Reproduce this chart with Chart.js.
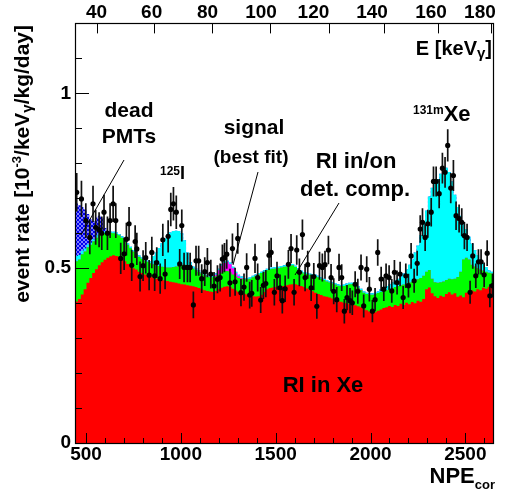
<!DOCTYPE html>
<html>
<head>
<meta charset="utf-8">
<script src="https://cdn.jsdelivr.net/npm/chart.js@4.4.0/dist/chart.umd.min.js"></script>
<style>
    body { margin: 0; background: #fff; }
    #myChartSpectrum { display: block; }
</style>
</head>
<body>
<canvas id="myChartSpectrum" width="507" height="494"></canvas>
<script>
// histogram bin centres (NPE_cor), 15 NPE wide
const binNpe = [
    435, 450, 465, 480, 495, 510, 525, 540, 555, 570,
    585, 600, 615, 630, 645, 660, 675, 690, 705, 720,
    735, 750, 765, 780, 795, 810, 825, 840, 855, 870,
    885, 900, 915, 930, 945, 960, 975, 990, 1005, 1020,
    1035, 1050, 1065, 1080, 1095, 1110, 1125, 1140, 1155, 1170,
    1185, 1200, 1215, 1230, 1245, 1260, 1275, 1290, 1305, 1320,
    1335, 1350, 1365, 1380, 1395, 1410, 1425, 1440, 1455, 1470,
    1485, 1500, 1515, 1530, 1545, 1560, 1575, 1590, 1605, 1620,
    1635, 1650, 1665, 1680, 1695, 1710, 1725, 1740, 1755, 1770,
    1785, 1800, 1815, 1830, 1845, 1860, 1875, 1890, 1905, 1920,
    1935, 1950, 1965, 1980, 1995, 2010, 2025, 2040, 2055, 2070,
    2085, 2100, 2115, 2130, 2145, 2160, 2175, 2190, 2205, 2220,
    2235, 2250, 2265, 2280, 2295, 2310, 2325, 2340, 2355, 2370,
    2385, 2400, 2415, 2430, 2445, 2460, 2475, 2490, 2505, 2520,
    2535, 2550, 2565, 2580, 2595, 2610, 2625, 2640, 2655
];

const riInXe = [
    0.400, 0.405, 0.412, 0.425, 0.440, 0.458, 0.472, 0.486, 0.497, 0.508,
    0.517, 0.524, 0.530, 0.534, 0.537, 0.535, 0.533, 0.527, 0.520, 0.512,
    0.505, 0.500, 0.496, 0.490, 0.486, 0.482, 0.479, 0.476, 0.473, 0.470,
    0.468, 0.466, 0.465, 0.463, 0.461, 0.460, 0.458, 0.456, 0.454, 0.453,
    0.451, 0.450, 0.448, 0.446, 0.443, 0.440, 0.437, 0.435, 0.433, 0.432,
    0.435, 0.440, 0.444, 0.447, 0.448, 0.446, 0.441, 0.436, 0.432, 0.430,
    0.427, 0.425, 0.422, 0.420, 0.419, 0.420, 0.424, 0.432, 0.440, 0.443,
    0.445, 0.446, 0.448, 0.448, 0.449, 0.451, 0.453, 0.454, 0.454, 0.452,
    0.449, 0.446, 0.442, 0.438, 0.434, 0.430, 0.426, 0.423, 0.420, 0.418,
    0.416, 0.413, 0.410, 0.407, 0.404, 0.401, 0.400, 0.398, 0.397, 0.394,
    0.391, 0.388, 0.384, 0.380, 0.376, 0.373, 0.374, 0.378, 0.382, 0.386,
    0.388, 0.392, 0.389, 0.395, 0.392, 0.398, 0.395, 0.401, 0.397, 0.403,
    0.400, 0.407, 0.404, 0.412, 0.440, 0.445, 0.428, 0.420, 0.415, 0.421,
    0.418, 0.426, 0.431, 0.425, 0.428, 0.418, 0.422, 0.417, 0.430, 0.432,
    0.436, 0.433, 0.440, 0.437, 0.444, 0.441, 0.447, 0.450, 0.452
];

const riDetComp = [
    0.590, 0.115, 0.113, 0.115, 0.108, 0.102, 0.095, 0.091, 0.090, 0.086,
    0.081, 0.076, 0.071, 0.067, 0.063, 0.063, 0.061, 0.060, 0.058, 0.055,
    0.052, 0.048, 0.044, 0.043, 0.041, 0.040, 0.039, 0.038, 0.038, 0.038,
    0.038, 0.038, 0.038, 0.039, 0.041, 0.043, 0.047, 0.052, 0.056, 0.057,
    0.056, 0.053, 0.051, 0.049, 0.047, 0.045, 0.043, 0.041, 0.041, 0.042,
    0.042, 0.042, 0.043, 0.044, 0.044, 0.042, 0.041, 0.040, 0.040, 0.040,
    0.041, 0.043, 0.048, 0.054, 0.059, 0.062, 0.062, 0.058, 0.054, 0.054,
    0.053, 0.053, 0.052, 0.054, 0.055, 0.054, 0.054, 0.054, 0.049, 0.044,
    0.040, 0.039, 0.041, 0.043, 0.045, 0.047, 0.048, 0.047, 0.046, 0.044,
    0.043, 0.043, 0.043, 0.043, 0.044, 0.048, 0.052, 0.056, 0.057, 0.056,
    0.053, 0.049, 0.046, 0.046, 0.048, 0.051, 0.052, 0.051, 0.050, 0.049,
    0.049, 0.048, 0.054, 0.051, 0.057, 0.053, 0.058, 0.055, 0.062, 0.058,
    0.063, 0.061, 0.068, 0.066, 0.050, 0.050, 0.042, 0.040, 0.043, 0.039,
    0.044, 0.040, 0.039, 0.043, 0.042, 0.057, 0.068, 0.108, 0.100, 0.093,
    0.074, 0.072, 0.060, 0.059, 0.049, 0.049, 0.040, 0.035, 0.033
];

const signalFit = [
    0, 0, 0, 0, 0, 0, 0, 0, 0, 0,
    0, 0, 0, 0, 0, 0, 0, 0, 0, 0,
    0, 0, 0, 0, 0, 0, 0, 0, 0, 0,
    0, 0, 0, 0, 0, 0, 0, 0, 0, 0,
    0, 0, 0, 0, 0, 0, 0, 0, 0, 0,
    0.004, 0.012, 0.020, 0.024, 0.026, 0.024, 0.018, 0.010, 0.005, 0.002,
    0, 0, 0, 0, 0, 0, 0, 0, 0, 0,
    0, 0, 0, 0, 0, 0, 0, 0, 0, 0,
    0, 0, 0, 0, 0, 0, 0, 0, 0, 0,
    0, 0, 0, 0, 0, 0, 0, 0, 0, 0,
    0, 0, 0, 0, 0, 0, 0, 0, 0, 0,
    0, 0, 0, 0, 0, 0, 0, 0, 0, 0,
    0, 0, 0, 0, 0, 0, 0, 0, 0, 0,
    0, 0, 0, 0, 0, 0, 0, 0, 0, 0,
    0, 0, 0, 0, 0, 0, 0, 0, 0
];

// 125I and 131mXe lines
const iodXe = [
    0, 0.015, 0.013, 0.010, 0.008, 0.008, 0.006, 0.006, 0.007, 0.006,
    0.005, 0.005, 0.004, 0.004, 0.004, 0.004, 0.004, 0.004, 0.004, 0.004,
    0.004, 0.004, 0.004, 0.004, 0.004, 0.004, 0.004, 0.006, 0.024, 0.037,
    0.052, 0.068, 0.082, 0.094, 0.100, 0.103, 0.102, 0.098, 0.090, 0.070,
    0.038, 0.014, 0.006, 0.004, 0.004, 0.004, 0.004, 0.004, 0.004, 0.004,
    0.004, 0.004, 0.004, 0.004, 0.004, 0.004, 0.004, 0.004, 0.004, 0.004,
    0.004, 0.004, 0.004, 0.004, 0.004, 0.004, 0.004, 0.004, 0.004, 0.004,
    0.004, 0.004, 0.004, 0.004, 0.004, 0.004, 0.004, 0.004, 0.004, 0.004,
    0.004, 0.004, 0.004, 0.004, 0.004, 0.004, 0.004, 0.004, 0.004, 0.004,
    0.004, 0.004, 0.004, 0.004, 0.004, 0.004, 0.004, 0.004, 0.004, 0.004,
    0.004, 0.004, 0.004, 0.004, 0.004, 0.004, 0.004, 0.004, 0.008, 0.010,
    0.012, 0.014, 0.017, 0.019, 0.021, 0.025, 0.032, 0.040, 0.051, 0.064,
    0.082, 0.097, 0.123, 0.152, 0.175, 0.210, 0.260, 0.282, 0.297, 0.310,
    0.323, 0.321, 0.305, 0.280, 0.240, 0.200, 0.160, 0.100, 0.082, 0.065,
    0.060, 0.047, 0.038, 0.029, 0.021, 0.013, 0.007, 0.005, 0.004
];

const deadPmts = [
    0, 0.150, 0.142, 0.125, 0.112, 0.087, 0.067, 0.052, 0.051, 0.050,
    0.042, 0.010, 0, 0, 0, 0, 0, 0, 0, 0,
    0, 0, 0, 0, 0, 0, 0, 0, 0, 0,
    0, 0, 0, 0, 0, 0, 0, 0, 0, 0,
    0, 0, 0, 0, 0, 0, 0, 0, 0, 0,
    0, 0, 0, 0, 0, 0, 0, 0, 0, 0,
    0, 0, 0, 0, 0, 0, 0, 0, 0, 0,
    0, 0, 0, 0, 0, 0, 0, 0, 0, 0,
    0, 0, 0, 0, 0, 0, 0, 0, 0, 0,
    0, 0, 0, 0, 0, 0, 0, 0, 0, 0,
    0, 0, 0, 0, 0, 0, 0, 0, 0, 0,
    0, 0, 0, 0, 0, 0, 0, 0, 0, 0,
    0, 0, 0, 0, 0, 0, 0, 0, 0, 0,
    0, 0, 0, 0, 0, 0, 0, 0, 0, 0,
    0, 0, 0, 0, 0, 0, 0, 0, 0
];

// measured points
const dataNpe = [
    451, 476, 499, 520, 537, 551, 569, 583, 595, 613,
    627, 643, 657, 683, 701, 713, 727, 741, 759, 768,
    785, 801, 815, 833, 847, 862, 873, 891, 905, 917,
    933, 947, 961, 976, 994, 1005, 1017, 1035, 1049, 1066,
    1080, 1094, 1110, 1126, 1140, 1158, 1175, 1193,
    1207, 1219, 1230, 1242, 1259, 1272, 1286, 1300, 1317, 1333,
    1347, 1363, 1374, 1391, 1405, 1421, 1435, 1448, 1465, 1476,
    1493, 1507, 1523, 1535, 1550, 1567, 1581, 1597, 1611, 1625,
    1641, 1655, 1669, 1687, 1701, 1717, 1731, 1746, 1760, 1778,
    1792, 1806, 1822, 1834, 1848, 1862, 1876, 1892, 1904, 1919, 1933,
    1950, 1964, 1980, 1994, 2010, 2024, 2038, 2056, 2070, 2082,
    2098, 2112, 2126, 2140, 2156, 2172, 2186, 2200, 2214, 2230,
    2246, 2262, 2274, 2288, 2302, 2320, 2332, 2346, 2362, 2379,
    2393, 2407, 2423, 2437, 2451, 2467, 2481, 2495, 2509, 2525,
    2539, 2555, 2569, 2583, 2599, 2615, 2629, 2643
];

const dataRate = [
    0.717, 0.698, 0.636, 0.588, 0.684, 0.617, 0.610, 0.600, 0.660, 0.600,
    0.636, 0.684, 0.636, 0.528, 0.541, 0.583, 0.627, 0.508, 0.576, 0.555,
    0.476, 0.507, 0.530, 0.480, 0.545, 0.478, 0.516, 0.470, 0.581, 0.483,
    0.591, 0.668, 0.684, 0.660, 0.512, 0.622, 0.502, 0.502, 0.502, 0.395,
    0.521, 0.521, 0.470, 0.490, 0.516, 0.483, 0.449, 0.468,
    0.473, 0.526, 0.530, 0.540, 0.458, 0.556, 0.461, 0.585, 0.430, 0.446,
    0.502, 0.423, 0.428, 0.528, 0.473, 0.409, 0.451, 0.456, 0.537, 0.545,
    0.431, 0.478, 0.444, 0.407, 0.441, 0.511, 0.556, 0.431, 0.552, 0.488,
    0.596, 0.473, 0.510, 0.444, 0.476, 0.391, 0.507, 0.502, 0.510, 0.552,
    0.473, 0.434, 0.410, 0.502, 0.473, 0.377, 0.416, 0.407, 0.401, 0.454, 0.434,
    0.502, 0.392, 0.497, 0.440, 0.377, 0.410, 0.545, 0.469, 0.440, 0.478,
    0.473, 0.435, 0.488, 0.459, 0.483, 0.416, 0.478, 0.450, 0.535, 0.464,
    0.514, 0.612, 0.631, 0.588, 0.627, 0.660, 0.748, 0.748, 0.713, 0.786,
    0.774, 0.851, 0.729, 0.765, 0.650, 0.642, 0.631, 0.593, 0.588, 0.431,
    0.535, 0.478, 0.518, 0.518, 0.481, 0.543, 0.421, 0.450
];

const dataErr = [
    0.055, 0.052, 0.050, 0.048, 0.052, 0.050, 0.050, 0.048, 0.050, 0.048,
    0.050, 0.052, 0.050, 0.045, 0.046, 0.047, 0.048, 0.045, 0.047, 0.046,
    0.043, 0.044, 0.045, 0.043, 0.045, 0.043, 0.044, 0.043, 0.046, 0.043,
    0.046, 0.048, 0.048, 0.048, 0.043, 0.046, 0.042, 0.042, 0.042, 0.038,
    0.043, 0.043, 0.041, 0.041, 0.042, 0.041, 0.040, 0.040,
    0.040, 0.042, 0.042, 0.042, 0.040, 0.043, 0.040, 0.044, 0.039, 0.039,
    0.041, 0.038, 0.038, 0.042, 0.040, 0.037, 0.039, 0.039, 0.042, 0.042,
    0.038, 0.040, 0.038, 0.037, 0.038, 0.041, 0.042, 0.038, 0.042, 0.040,
    0.043, 0.039, 0.040, 0.038, 0.039, 0.036, 0.040, 0.040, 0.040, 0.041,
    0.039, 0.037, 0.036, 0.039, 0.038, 0.035, 0.036, 0.036, 0.035, 0.037, 0.036,
    0.037, 0.033, 0.037, 0.035, 0.032, 0.033, 0.038, 0.035, 0.034, 0.035,
    0.035, 0.034, 0.035, 0.034, 0.035, 0.033, 0.035, 0.034, 0.037, 0.034,
    0.036, 0.039, 0.040, 0.039, 0.040, 0.041, 0.043, 0.043, 0.042, 0.044,
    0.044, 0.046, 0.043, 0.044, 0.041, 0.040, 0.040, 0.039, 0.039, 0.033,
    0.037, 0.035, 0.036, 0.036, 0.035, 0.037, 0.033, 0.034
];

// axes
const xTicks = [500, 1000, 1500, 2000, 2500];
const yTicks = [0, 0.5, 1];
const energyLabels = [40, 60, 80, 100, 120, 140, 160, 180];
const energyLabelNpe = [556, 846, 1141, 1423, 1699, 2008, 2319, 2577];
const energyTickNpe = [556, 860, 1163, 1470, 1783, 2071, 2354, 2634];

const FONT = '"Liberation Sans", Arial, Helvetica, sans-serif';
const layers = [riInXe, riDetComp, signalFit, iodXe, deadPmts];

function stackTops(upTo) {
    return binNpe.map(function (x, i) {
        let sum = 0;
        for (let j = 0; j <= upTo; j++) {
            sum += layers[j][i];
        }
        return { x: x, y: sum };
    });
}

function hatchPattern() {
    const c = document.createElement('canvas');
    c.width = 4;
    c.height = 4;
    const g = c.getContext('2d');
    g.fillStyle = '#0000f0';
    g.fillRect(0, 0, 4, 4);
    g.fillStyle = '#7c7cff';
    [[0, 0], [1, 1], [2, 2], [3, 3], [3, 0], [2, 1], [1, 2], [0, 3]].forEach(function (p) {
        g.fillRect(p[0], p[1], 1, 1);
    });
    return g.createPattern(c, 'repeat');
}

function layerDataset(label, upTo, color) {
    return {
        type: 'line',
        label: label,
        data: stackTops(upTo),
        backgroundColor: color,
        borderColor: color,
        borderWidth: 0,
        pointRadius: 0,
        stepped: 'middle',
        fill: 'origin'
    };
}

function richText(c, parts, x, y, align) {
    let w = 0;
    parts.forEach(function (p) {
        c.font = 'bold ' + p[1] + 'px ' + FONT;
        w += c.measureText(p[0]).width;
    });
    let cx = align === 'right' ? x - w : (align === 'center' ? x - w / 2 : x);
    parts.forEach(function (p) {
        c.font = 'bold ' + p[1] + 'px ' + FONT;
        c.fillText(p[0], cx, y + (p[2] || 0));
        cx += c.measureText(p[0]).width;
    });
}

const errorBars = {
    id: 'errorBars',
    beforeDatasetDraw(chart, args) {
        if (args.index !== 0) return;
        const c = chart.ctx;
        const a = chart.chartArea;
        const sx = chart.scales.x;
        const sy = chart.scales.y;
        c.save();
        c.beginPath();
        c.rect(a.left, a.top, a.right - a.left, a.bottom - a.top);
        c.clip();
        c.strokeStyle = '#111';
        c.lineWidth = 1.7;
        c.beginPath();
        dataNpe.forEach(function (n, i) {
            const px = sx.getPixelForValue(n);
            c.moveTo(px, sy.getPixelForValue(dataRate[i] - dataErr[i]));
            c.lineTo(px, sy.getPixelForValue(dataRate[i] + dataErr[i]));
        });
        c.stroke();
        c.restore();
    }
};

const frameAndText = {
    id: 'frameAndText',
    afterDraw(chart) {
        const c = chart.ctx;
        const a = chart.chartArea;
        const sx = chart.scales.x;
        const sy = chart.scales.y;
        c.save();
        c.strokeStyle = '#000';
        c.lineWidth = 1;
        c.beginPath();
        for (let v = 500; v <= 2600; v += 100) {
            const px = Math.round(sx.getPixelForValue(v)) + 0.5;
            c.moveTo(px, a.bottom);
            c.lineTo(px, a.bottom - (xTicks.includes(v) ? 10 : 5));
        }
        for (let k = 0; k <= 12; k++) {
            const py = Math.round(sy.getPixelForValue(k / 10)) + 0.5;
            c.moveTo(a.left, py);
            c.lineTo(a.left + (k % 5 === 0 ? 14 : 7), py);
        }
        energyTickNpe.forEach(function (n) {
            const px = Math.round(sx.getPixelForValue(n)) + 0.5;
            c.moveTo(px, a.top);
            c.lineTo(px, a.top + 10);
        });
        c.stroke();
        c.lineWidth = 1.2;
        c.strokeRect(Math.round(a.left) + 0.5, Math.round(a.top) + 0.5,
            Math.round(a.right - a.left) - 1, Math.round(a.bottom - a.top));

        // leader lines
        c.lineWidth = 1;
        c.beginPath();
        c.moveTo(124, 160); c.lineTo(81, 235);
        c.moveTo(258, 172); c.lineTo(233, 265);
        c.moveTo(339, 203); c.lineTo(295, 275);
        c.stroke();

        c.fillStyle = '#000';
        c.textBaseline = 'alphabetic';
        c.textAlign = 'left';
        richText(c, [['dead', 21]], 129, 117, 'center');
        richText(c, [['PMTs', 21]], 129, 143, 'center');
        richText(c, [['125', 12, -4], ['I', 18]], 160, 179, 'left');
        richText(c, [['signal', 21]], 254, 134, 'center');
        richText(c, [['(best fit)', 19]], 251, 163, 'center');
        richText(c, [['RI in/on', 22]], 356, 168, 'center');
        richText(c, [['det. comp.', 22]], 355, 196, 'center');
        richText(c, [['131m', 12, -7], ['Xe', 22]], 413, 121, 'left');
        richText(c, [['RI in Xe', 22]], 323, 392, 'center');
        richText(c, [['E [keV', 20], ['\u03b3', 15, 3], [']', 20]], 492, 55, 'right');
        richText(c, [['NPE', 22], ['cor', 13, 6]], 495, 483, 'right');

        c.translate(29, 25);
        c.rotate(-Math.PI / 2);
        richText(c, [['event rate [10', 21], ['-3', 13, -8], ['/keV', 21], ['\u03b3', 15, 3], ['/kg/day]', 21]], 0, 0, 'right');
        c.restore();
    }
};

const tickFont = { family: FONT, size: 19, weight: 'bold', lineHeight: 1 };

const ctx = document.getElementById('myChartSpectrum').getContext('2d');
const myChart = new Chart(ctx, {
    type: 'line',
    data: {
        datasets: [
            {
                type: 'scatter',
                label: 'data',
                data: dataNpe.map(function (n, i) { return { x: n, y: dataRate[i] }; }),
                backgroundColor: '#000',
                borderColor: '#000',
                borderWidth: 0,
                pointRadius: 2.6,
                showLine: false
            },
            layerDataset('RI in Xe', 0, '#ff0000'),
            layerDataset('RI in/on det. comp.', 1, '#00ff00'),
            layerDataset('signal', 2, '#ff00ff'),
            layerDataset('125I / 131mXe', 3, '#00ffff'),
            layerDataset('dead PMTs', 4, hatchPattern())
        ]
    },
    options: {
        responsive: false,
        animation: false,
        devicePixelRatio: 1,
        layout: { padding: { left: 0, right: 13, top: 0, bottom: 0 } },
        plugins: {
            legend: { display: false },
            tooltip: { enabled: false }
        },
        scales: {
            x: {
                type: 'linear',
                position: 'bottom',
                min: 442,
                max: 2651,
                grid: { display: false, drawTicks: false },
                border: { display: false },
                afterBuildTicks: function (scale) {
                    scale.ticks = xTicks.map(function (v) { return { value: v }; });
                },
                afterFit: function (scale) {
                    scale.height = 51;
                    scale.paddingLeft = 0;
                    scale.paddingRight = 0;
                },
                ticks: {
                    autoSkip: false,
                    maxRotation: 0,
                    padding: 2,
                    color: '#000',
                    font: tickFont,
                    callback: function (v) { return String(v); }
                }
            },
            x2: {
                type: 'linear',
                position: 'top',
                min: 442,
                max: 2651,
                grid: { display: false, drawTicks: false },
                border: { display: false },
                afterBuildTicks: function (scale) {
                    scale.ticks = energyLabelNpe.map(function (v) { return { value: v }; });
                },
                afterFit: function (scale) {
                    scale.height = 23.4;
                    scale.paddingLeft = 0;
                    scale.paddingRight = 0;
                },
                ticks: {
                    autoSkip: false,
                    maxRotation: 0,
                    padding: 1,
                    color: '#000',
                    font: tickFont,
                    callback: function (v, i) { return String(energyLabels[i]); }
                }
            },
            y: {
                min: 0,
                max: 1.2,
                grid: { display: false, drawTicks: false },
                border: { display: false },
                afterBuildTicks: function (scale) {
                    scale.ticks = yTicks.map(function (v) { return { value: v }; });
                },
                afterFit: function (scale) {
                    scale.width = 75;
                },
                ticks: {
                    padding: 4,
                    color: '#000',
                    font: tickFont,
                    callback: function (v) { return String(v); }
                }
            }
        }
    },
    plugins: [errorBars, frameAndText]
});
</script>
</body>
</html>
